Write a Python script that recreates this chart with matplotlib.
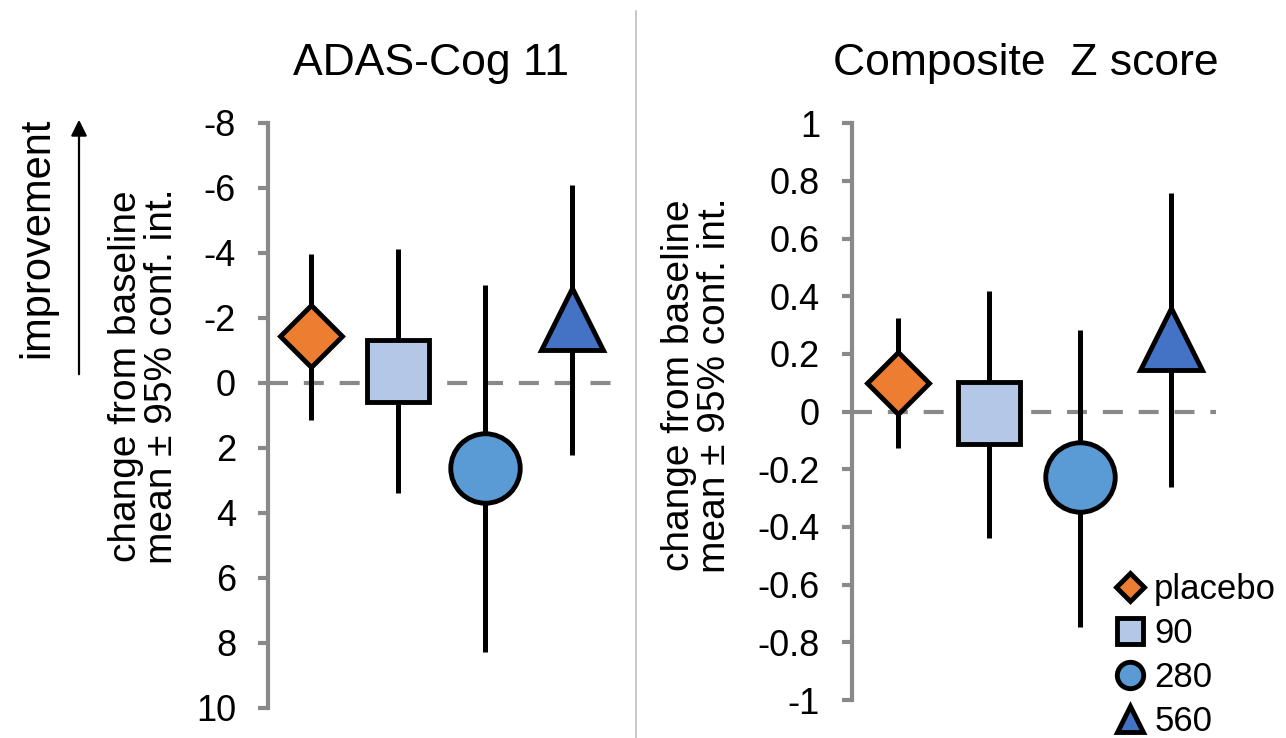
import matplotlib.pyplot as plt
from matplotlib.lines import Line2D
import numpy as np

plt.rcParams['font.family'] = ['Liberation Sans', 'DejaVu Sans']
plt.rcParams['axes.unicode_minus'] = False

groups = ['placebo', '90', '280', '560']
markers = ['D', 's', 'o', '^']
colors = ['#ED7D31', '#B4C7E7', '#5B9BD5', '#4472C4']
sizes = [32, 45, 50, 44]
legend_sizes = [14, 19, 19, 19]

# ADAS-Cog 11: change from baseline, mean and 95% CI
adas_mean = [-1.45, -0.35, 2.62, -1.95]
adas_lo = [-3.95, -4.1, -3.0, -6.08]
adas_hi = [1.15, 3.4, 8.3, 2.22]
adas_ticks = [-8, -6, -4, -2, 0, 2, 4, 6, 8, 10]

# Composite Z score
comp_mean = [0.10, -0.005, -0.227, 0.252]
comp_lo = [-0.125, -0.438, -0.747, -0.261]
comp_hi = [0.326, 0.42, 0.283, 0.759]
comp_ticks = [1, 0.8, 0.6, 0.4, 0.2, 0, -0.2, -0.4, -0.6, -0.8, -1]

grey = '#898989'
W, H = 1286, 738
fig = plt.figure(figsize=(W / 100, H / 100), dpi=100)

ax1 = fig.add_axes([268 / W, 1 - 707.7 / H, 347.5 / W, 585 / H])
ax2 = fig.add_axes([852 / W, 1 - 700 / H, 364 / W, 576.7 / H])


def draw(ax, mean, lo, hi, ticks):
    x = np.arange(1, len(mean) + 1)
    ax.axhline(0, color=grey, lw=3, dashes=(4.8, 3.8), zorder=1)
    ax.vlines(x, lo, hi, color='black', lw=3.6, zorder=2)
    for i in range(len(mean)):
        ax.plot(x[i], mean[i], marker=markers[i], ms=sizes[i],
                mfc=colors[i], mec='black', mew=3.5, ls='none', zorder=3)
    ax.set_xlim(0.5, len(mean) + 0.5)
    ax.set_yticks(ticks)
    ax.set_yticklabels([f'{t:g}' for t in ticks])
    for s in ['top', 'right', 'bottom']:
        ax.spines[s].set_visible(False)
    ax.spines['left'].set_color(grey)
    ax.spines['left'].set_linewidth(3)
    ax.set_xticks([])
    ax.tick_params(axis='y', length=7, width=3, color=grey, pad=16,
                   labelsize=26, labelcolor='black')


draw(ax1, adas_mean, adas_lo, adas_hi, adas_ticks)
ax1.set_ylim(10, -8)
draw(ax2, comp_mean, comp_lo, comp_hi, comp_ticks)
ax2.set_ylim(-1, 1)

fig.text(431 / W, 1 - 75 / H, 'ADAS-Cog 11', fontsize=32, ha='center', va='baseline')
fig.text(1026 / W, 1 - 75 / H, 'Composite  Z score', fontsize=32, ha='center', va='baseline')

ylab = 'change from baseline\nmean ± 95% conf. int.'
fig.text(144 / W, 1 - 376 / H, ylab, fontsize=28, rotation=90, ha='center', va='center',
         multialignment='center', linespacing=1.0)
fig.text(697 / W, 1 - 385 / H, ylab, fontsize=28, rotation=90, ha='center', va='center',
         multialignment='center', linespacing=1.0)

fig.text(37 / W, 1 - 238 / H, 'improvement', fontsize=30, rotation=90, ha='center', va='center')
fig.add_artist(plt.Annotation('', xy=(79 / W, 1 - 117 / H), xytext=(79 / W, 1 - 377 / H),
                              xycoords='figure fraction', textcoords='figure fraction',
                              arrowprops=dict(arrowstyle='-|>', color='black', lw=1.6,
                                              mutation_scale=24)))

# divider between panels
fig.add_artist(Line2D([636 / W, 636 / W], [0, 1 - 11 / H], color='#bfbfbf', lw=1.2))

handles = [Line2D([], [], marker=markers[i], ms=legend_sizes[i], mfc=colors[i],
                  mec='black', mew=3.5, ls='none') for i in range(len(groups))]
ax2.legend(handles, groups, loc='lower left', bbox_to_anchor=(1116 / W, 1 - 738 / H),
           bbox_transform=fig.transFigure, frameon=False, fontsize=25,
           handlelength=0.8, handletextpad=0.3, labelspacing=0.32, borderpad=0,
           borderaxespad=0)

fig.savefig('out.png', dpi=100)
